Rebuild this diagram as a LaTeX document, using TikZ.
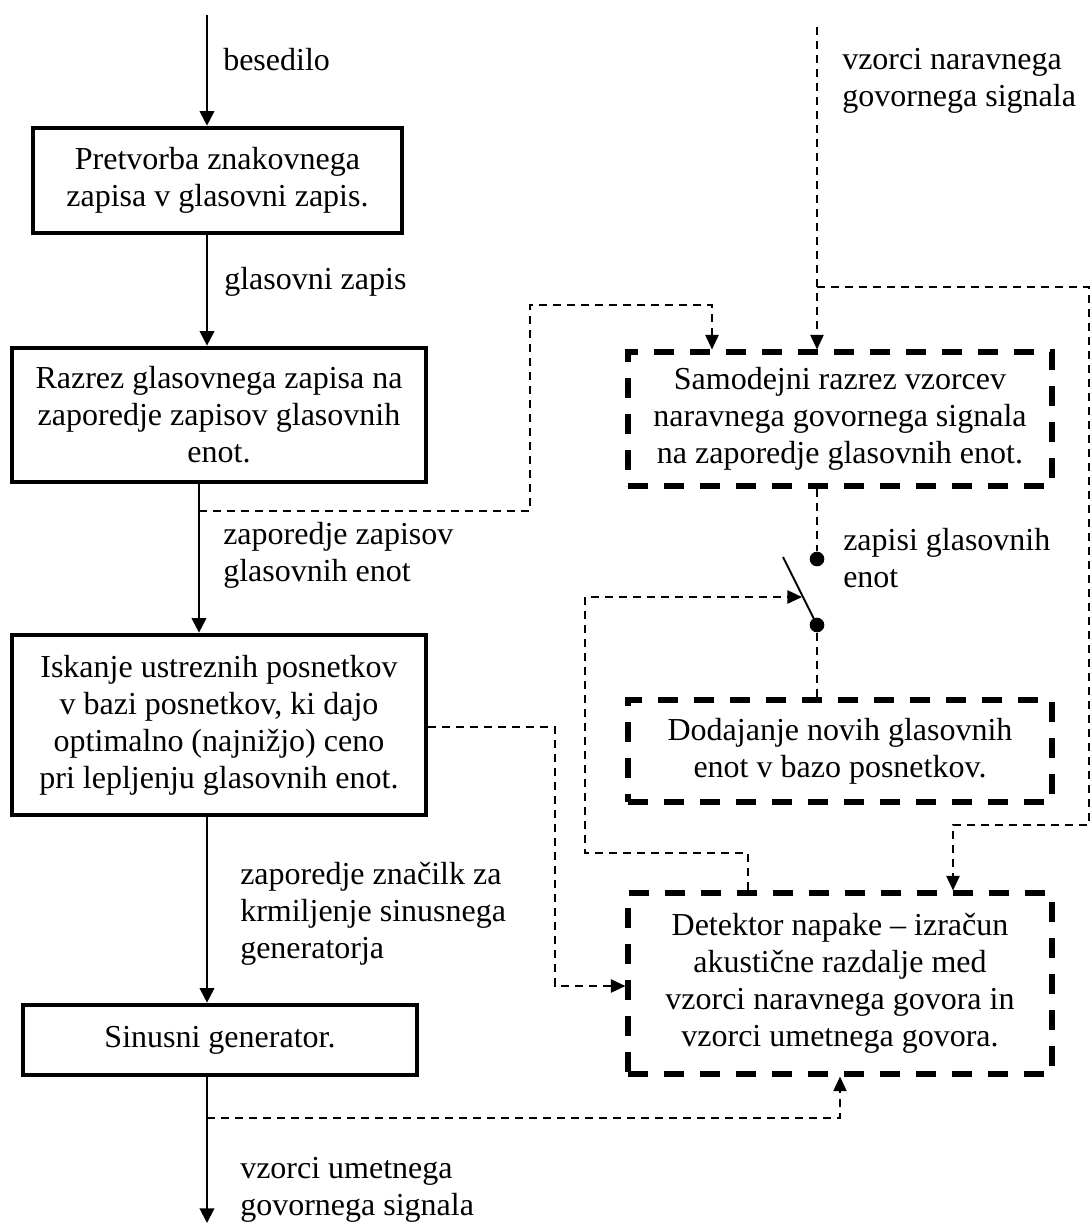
\documentclass[tikz,border=0pt]{standalone}
\usepackage{fontspec}
\setmainfont{Liberation Serif}
\usetikzlibrary{arrows.meta}
\begin{document}
\begin{tikzpicture}[x=0.75pt,y=-0.75pt,
  every node/.style={font=\fontsize{24}{27.75}\selectfont, inner sep=0pt},
  block/.style 2 args={draw, line width=3.5pt, align=center,
    minimum width=#1*0.75pt, minimum height=#2*0.75pt},
  autoblock/.style 2 args={draw, line width=3.8pt, dash pattern=on 15pt off 12pt,
    align=center, minimum width=#1*0.75pt, minimum height=#2*0.75pt},
  note/.style={anchor=west, align=left},
  flow/.style={line width=1.5pt, -{Triangle[length=11pt,width=11pt]}},
  feed/.style={line width=1.2pt, dash pattern=on 6pt off 4.5pt},
  feedarrow/.style={feed, -{Triangle[length=11pt,width=10pt]}},
  contact/.style={circle, fill, minimum size=11pt}
]
\useasboundingbox (0,0) rectangle (1090,1225);

% main synthesis chain
\node[block={369}{105}] (b1) at (217.5,180.5) {Pretvorba znakovnega\\zapisa v glasovni zapis.};
\node[block={414}{134}] (b2) at (219,415) {Razrez glasovnega zapisa na\\zaporedje zapisov glasovnih\\enot.};
\node[block={414}{180}] (b3) at (219,725) {Iskanje ustreznih posnetkov\\v bazi posnetkov, ki dajo\\optimalno (najnižjo) ceno\\pri lepljenju glasovnih enot.};
\node[block={394}{70}] (b4) at (220,1040) {Sinusni generator.};

% automatic database extension
\node[autoblock={424}{134}] (r1) at (840,419) {Samodejni razrez vzorcev\\naravnega govornega signala\\na zaporedje glasovnih enot.};
\node[autoblock={424}{102}] (r2) at (840,751) {Dodajanje novih glasovnih\\enot v bazo posnetkov.};
\node[autoblock={424}{181}] (r4) at (840,983.5) {Detektor napake – izračun\\akustične razdalje med\\vzorci naravnega govora in\\vzorci umetnega govora.};

% switch contacts
\node[contact] (d1) at (817,559) {};
\node[contact] (d2) at (817,625) {};

% free ends and bends
\coordinate (in) at (207,15);
\coordinate (out) at (207,1223);
\coordinate (colB) at (199,511);
\coordinate (k1) at (530,305);
\coordinate (k2) at (712,305);
\coordinate (src) at (817,27);
\coordinate (k3) at (817,287);
\coordinate (k4) at (1089,825);
\coordinate (k5) at (953,825);
\coordinate (lev) at (783,557);
\coordinate (levhit) at (802,597);
\coordinate (k6) at (748,853);
\coordinate (k7) at (585,597);
\coordinate (k8) at (555,727);
\coordinate (k9) at (555,986);
\coordinate (k10) at (207,1118);
\coordinate (k11) at (840,1118);

% solid signal path
\draw[flow] (in) -- (in |- b1.north);
\draw[flow] (b1.south -| in) -- (b2.north -| in);
\draw[flow] (b2.south -| colB) -- (b3.north -| colB);
\draw[flow] (b3.south -| in) -- (b4.north -| in);
\draw[flow] (b4.south -| in) -- (out);

% dashed control paths
\draw[feedarrow] (colB) -| (k1) -- (k2) -- (k2 |- r1.north);
\draw[feedarrow] (src) -- (src |- r1.north);
\draw[feedarrow] (k3) -| (k4) -- (k5) -- (k5 |- r4.north);
\draw[feed] (r1.south -| src) -- (d1);
\draw[feed] (d2) -- (d2 |- r2.north);
\draw[line width=1.5pt] (d2.center) -- (lev);
\draw[feedarrow] (k6 |- r4.north) -- (k6) -| (k7) -- (levhit);
\draw[feedarrow] (b3.east |- k8) -- (k8) -- (k9) -- (k9 -| r4.west);
\draw[feedarrow] (k10) -- (k11) -- (k11 |- r4.south);

% signal labels
\node[note] (t1) at (223,60) {besedilo};
\node[note] (t2) at (224,282) {glasovni zapis};
\node[note] (t3) at (223,555) {zaporedje zapisov\\glasovnih enot};
\node[note] (t4) at (240,914) {zaporedje značilk za\\krmiljenje sinusnega\\generatorja};
\node[note] (t5) at (240,1190) {vzorci umetnega\\govornega signala};
\node[note] (t6) at (842,81) {vzorci naravnega\\govornega signala};
\node[note] (t7) at (843,558) {zapisi glasovnih\\enot};
\end{tikzpicture}
\end{document}
